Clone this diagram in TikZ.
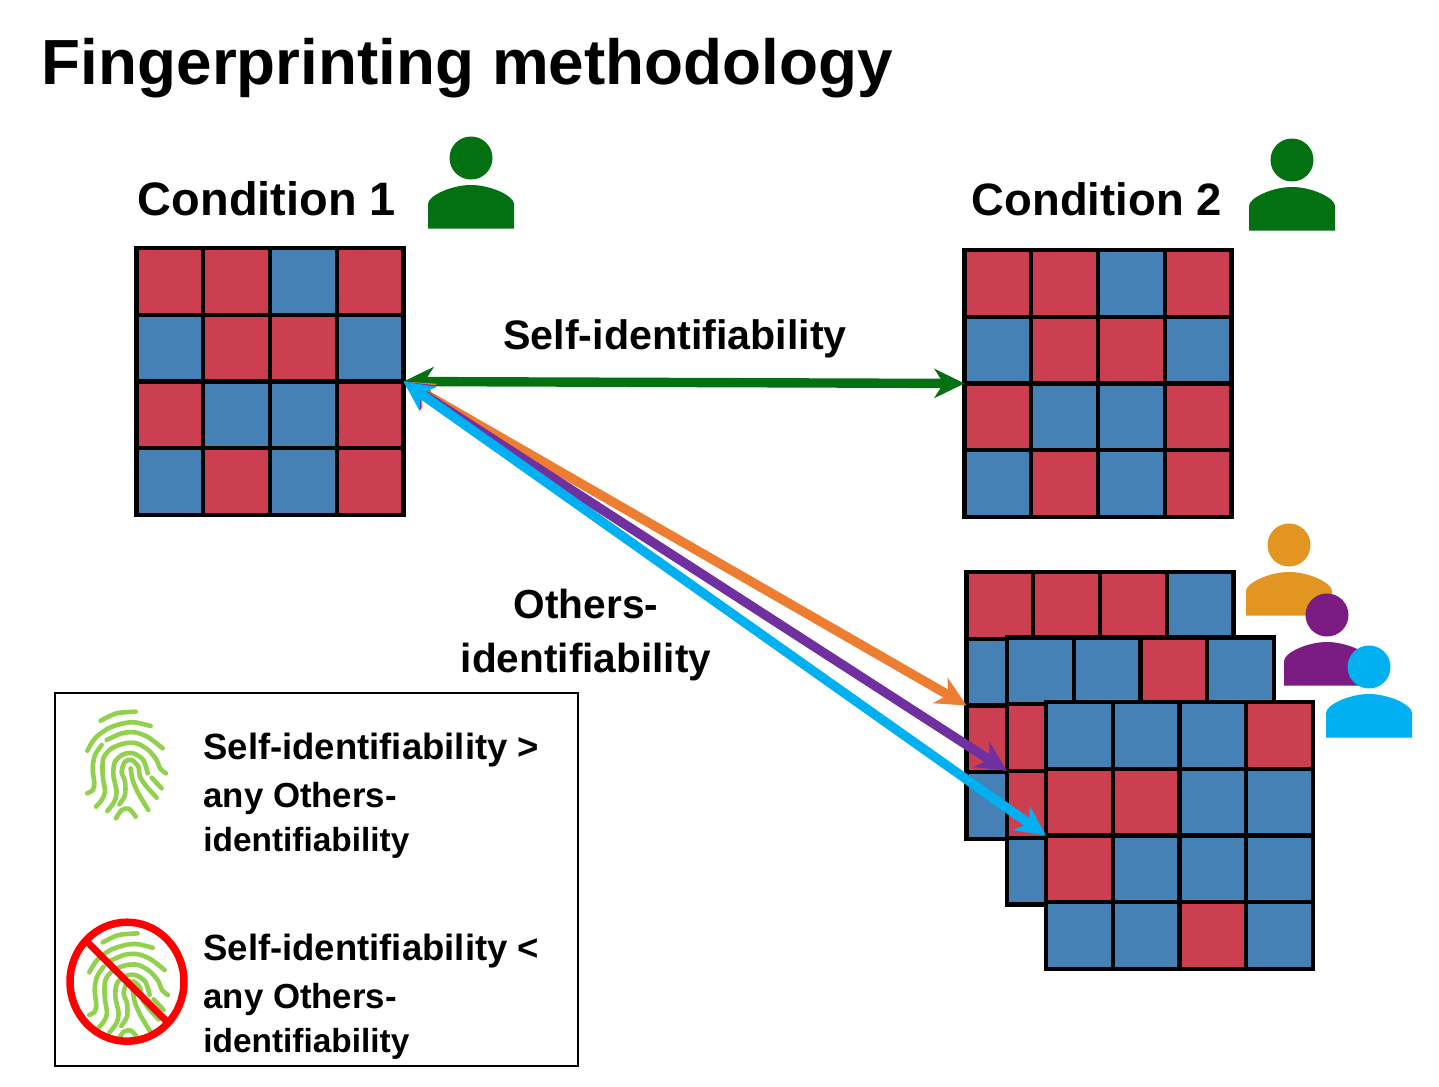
\documentclass[tikz,border=0pt]{standalone}
\usepackage{fontspec}
\setmainfont{Liberation Sans}
\usepackage{xcolor}
\usetikzlibrary{positioning,calc,arrows.meta,shapes.geometric}

\definecolor{cr}{HTML}{CB3F50}
\definecolor{cb}{HTML}{4581B4}
\definecolor{selfgreen}{HTML}{037111}
\definecolor{personorange}{HTML}{E39522}
\definecolor{personpurple}{HTML}{7A1C82}
\definecolor{othercyan}{HTML}{00B0F0}
\definecolor{arroworange}{HTML}{ED7D31}
\definecolor{arrowpurple}{HTML}{7030A0}
\definecolor{printgreen}{HTML}{92D050}

% one grid = frame node + 16 cells, read row by row
\newcommand{\gridcells}[2]{
  \foreach \cell [count=\i from 0] in {#2} {
    \pgfmathtruncatemacro\col{mod(\i,4)}
    \pgfmathtruncatemacro\row{int(\i/4)}
    \node[cellbox, fill=\cell] (#1-\i) at ($(#1.north west)+(\col*66.75+33.375,\row*66.75+33.375)$) {};
  }
}
\newcommand{\sized}[1]{\fontsize{#1}{22}\selectfont}

\begin{document}
\begin{tikzpicture}[
    x=0.5pt, y=-0.5pt,
    gridbox/.style={rectangle, draw=black, fill=white, line width=2.05pt, minimum size=133.5pt, inner sep=0pt, outer sep=0pt},
    cellbox/.style={rectangle, draw=black, line width=2.05pt, minimum size=33.375pt, inner sep=0pt, outer sep=0pt},
    arrow/.style={<->, >={Stealth[length=15pt,width=14.5pt,inset=4.5pt]}, line width=4.7pt},
    titletext/.style={anchor=base west, inner sep=0pt, font=\fontsize{31.9}{36}\selectfont\bfseries},
    condtext/.style={anchor=base west, inner sep=0pt, font=\fontsize{23.45}{28}\selectfont\bfseries},
    arrowtext/.style={align=center, inner sep=0pt, font=\fontsize{20.3}{27}\selectfont\bfseries},
    legendtext/.style={anchor=north west, align=left, inner sep=0pt, font=\fontsize{17}{22}\selectfont\bfseries},
    legendbox/.style={rectangle, draw=black, line width=1.4pt, minimum width=261.5pt, minimum height=186.5pt, inner sep=0pt, outer sep=0pt},
    fprint/.style={draw=printgreen, line width=2.3pt, line cap=round},
    pics/person/.style={code={
        \fill[#1] (0,0) circle[radius=21.5];
        \fill[#1] (-43,70.5) -- (-43,46) .. controls (-43,38) and (-20,27) .. (0,27) .. controls (20,27) and (43,38) .. (43,46) -- (43,70.5) -- cycle;
    }},
    pics/fingerprint/.style={code={
        \begin{scope}[x=0.16667pt, y=-0.16667pt]
        \draw[fprint] plot[smooth] coordinates {(62,47) (110,25) (167,20)};
        \draw[fprint] plot[smooth] coordinates {(22,137) (45,100) (85,70) (130,55) (165,52) (212,63)};
        \draw[fprint] plot[smooth] coordinates {(80,105) (125,85) (165,82) (205,97) (248,130)};
        \draw[fprint] plot[smooth] coordinates {(65,120) (45,150) (38,190) (43,235) (38,255) (22,265)};
        \draw[fprint] plot[smooth] coordinates {(48,305) (65,285) (75,260) (68,210) (70,160) (95,130) (135,115) (170,115) (205,135) (230,165) (240,190) (258,205)};
        \draw[fprint] plot[smooth] coordinates {(82,318) (103,290) (110,260) (100,210) (105,170) (130,148) (160,145) (190,165) (203,205)};
        \draw[fprint] plot[smooth] coordinates {(118,298) (135,270) (135,230) (125,200) (135,170) (155,165) (175,185) (180,215) (200,245) (230,278)};
        \draw[fprint] plot[smooth] coordinates {(152,190) (158,225) (175,265) (205,315)};
        \draw[fprint] plot[smooth] coordinates {(215,218) (245,250)};
        \draw[fprint] plot[smooth] coordinates {(108,340) (125,315) (148,312) (167,335)};
        \end{scope}
    }},
]
\useasboundingbox (0,0) rectangle (1439,1086);

\node[titletext] (title) at (41.5,84) {Fingerprinting methodology};

% conditions
\node[gridbox] (cond1) at (270,381.5) {};
\gridcells{cond1}{cr,cr,cb,cr, cb,cr,cr,cb, cr,cb,cb,cr, cb,cr,cb,cr}
\node[gridbox, right=280.5pt of cond1, yshift=-1pt] (cond2) {};
\gridcells{cond2}{cr,cr,cb,cr, cb,cr,cr,cb, cr,cb,cb,cr, cb,cr,cb,cr}
\node[condtext] (cond1label) at (137.5,215) {Condition 1};
\node[condtext, font=\fontsize{22.7}{28}\selectfont\bfseries] (cond2label) at (971.5,215) {Condition 2};
\pic at (471,158) {person=selfgreen};
\pic at (1292,160) {person=selfgreen};

% others
\pic at (1289,545) {person=personorange};
\pic at (1327,615) {person=personpurple};
\pic at (1369,667) {person=othercyan};
\node[gridbox, below=27.5pt of cond2, xshift=1pt] (other1) {};
\gridcells{other1}{cr,cr,cr,cb, cb,cb,cb,cb, cr,cb,cb,cb, cb,cb,cb,cb}
\node[gridbox, xshift=20.25pt, yshift=-32.75pt] (other2) at (other1) {};
\gridcells{other2}{cb,cb,cr,cb, cr,cb,cb,cb, cr,cb,cb,cb, cb,cb,cb,cb}
\node[gridbox, xshift=19.5pt, yshift=-32.25pt] (other3) at (other2) {};
\gridcells{other3}{cb,cb,cb,cr, cr,cr,cb,cb, cr,cb,cb,cb, cb,cb,cr,cb}

% arrows
\draw[arrow, selfgreen] (cond1.east) -- (cond2.west);
\draw[arrow, arroworange] (cond1.east) -- (other1.west);
\draw[arrow, arrowpurple] (cond1.east) -- (other2.west);
\draw[arrow, othercyan] (cond1.east) -- (other3.west);
\node[arrowtext, font=\fontsize{20.6}{27}\selectfont\bfseries] (selflabel) at (675,339) {Self-identifiability};
\node[arrowtext] (otherslabel) at (586,635) {Others-\\identifiability};

% legend
\node[legendbox] (legend) at (316.5,879.5) {};
\pic at (80,705) {fingerprint};
\pic at (82,926.7) {fingerprint};
\node[ellipse, draw=red, line width=3.75pt, minimum width=57pt, minimum height=59.5pt, inner sep=0pt, outer sep=0pt] (nosign) at (127,981.7) {};
\draw[red, line width=3.5pt] (nosign.135) -- (nosign.-45);
\node[legendtext] (legendtop) at (203,733) {\sized{18.25}Self-identifiability >\\[2pt]\sized{17.4}any Others-\\\sized{16.7}identifiability};
\node[legendtext] (legendbottom) at (203,934) {\sized{18.25}Self-identifiability <\\[2pt]\sized{17.4}any Others-\\\sized{16.7}identifiability};

\end{tikzpicture}
\end{document}
